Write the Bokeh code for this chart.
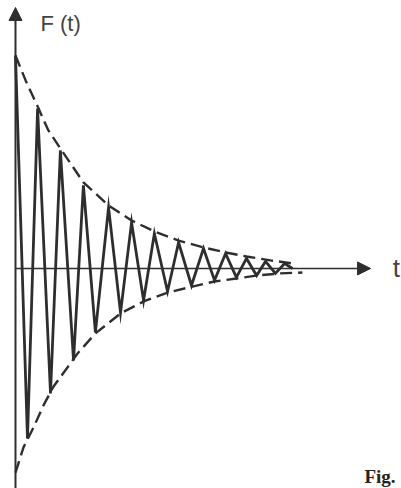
from bokeh.plotting import figure
from bokeh.models import Range1d, Arrow, NormalHead, Label
from bokeh.embed import file_html
from bokeh.resources import INLINE

# Damped oscillation F(t): turning points of the zig-zag trace
peak_t = [0.00, 0.94, 1.91, 2.89, 3.96, 4.94, 5.91, 6.94, 8.00, 8.94, 9.83, 10.64, 11.45]
peak_F = [1.000, 0.751, 0.554, 0.390, 0.286, 0.216, 0.164, 0.122, 0.094, 0.070, 0.047, 0.033, 0.023]
trough_t = [0.51, 1.49, 2.47, 3.40, 4.47, 5.45, 6.47, 7.49, 8.47, 9.40, 10.26, 11.06]
trough_F = [-0.798, -0.587, -0.432, -0.300, -0.207, -0.150, -0.108, -0.080, -0.056, -0.042, -0.033, -0.023]
end_t, end_F = 11.79, 0.0

# Dashed envelope curves
env_top_t = [0.00, 0.43, 0.94, 1.40, 1.91, 2.43, 2.89, 3.96, 4.94, 5.91, 6.94, 8.00, 8.94, 9.83, 10.85, 11.83]
env_top_F = [1.000, 0.883, 0.761, 0.648, 0.563, 0.479, 0.404, 0.296, 0.225, 0.174, 0.131, 0.099, 0.075, 0.056, 0.038, 0.023]
env_bot_t = [0.00, 0.34, 0.77, 1.19, 1.62, 2.21, 2.64, 3.40, 4.47, 5.45, 6.47, 7.53, 8.47, 9.40, 10.30, 11.28, 12.21]
env_bot_F = [-0.958, -0.840, -0.746, -0.643, -0.554, -0.465, -0.399, -0.305, -0.211, -0.155, -0.113, -0.085, -0.061, -0.047, -0.033, -0.023, -0.019]

# Zig-zag: alternate peaks and troughs
zz_t, zz_F = [], []
for i in range(len(peak_t)):
    zz_t.append(peak_t[i]); zz_F.append(peak_F[i])
    if i < len(trough_t):
        zz_t.append(trough_t[i]); zz_F.append(trough_F[i])
zz_t.append(end_t); zz_F.append(end_F)

INK = "#2e2e2e"

p = figure(width=401, height=488, output_backend="svg", toolbar_location=None,
           x_range=Range1d(-0.638, 16.426), y_range=Range1d(-1.033, 1.258),
           min_border=0, outline_line_color=None, background_fill_color="white",
           border_fill_color="white")
p.axis.visible = False
p.grid.visible = False

# coordinate axes with arrow heads
p.add_layout(Arrow(x_start=0, y_start=-1.1, x_end=0, y_end=1.225,
                   line_color=INK, line_width=2,
                   end=NormalHead(size=13, fill_color=INK, line_color=INK, line_width=1)))
p.add_layout(Arrow(x_start=0, y_start=0, x_end=15.11, y_end=0,
                   line_color=INK, line_width=1.6,
                   end=NormalHead(size=13, fill_color=INK, line_color=INK, line_width=1)))

p.line(env_top_t, env_top_F, line_color=INK, line_width=2.4, line_dash="12 6")
p.line(env_bot_t, env_bot_F, line_color=INK, line_width=2.4, line_dash="12 6")
p.line(zz_t, zz_F, line_color=INK, line_width=2.8, line_join="miter")

p.add_layout(Label(x=1.06, y=1.152, text="F (t)", text_font="Liberation Sans",
                   text_font_size="22px", text_color="#444444", text_baseline="alphabetic"))
p.add_layout(Label(x=16.05, y=0.0, text="t", text_font="Liberation Sans",
                   text_font_size="26px", text_color="#444444", text_baseline="alphabetic"))
p.add_layout(Label(x=14.85, y=-0.975, text="Fig.", text_font="Liberation Serif",
                   text_font_style="bold", text_font_size="19px", text_color="#222222",
                   text_baseline="alphabetic"))

open("out.html", "w").write(file_html(p, INLINE))
